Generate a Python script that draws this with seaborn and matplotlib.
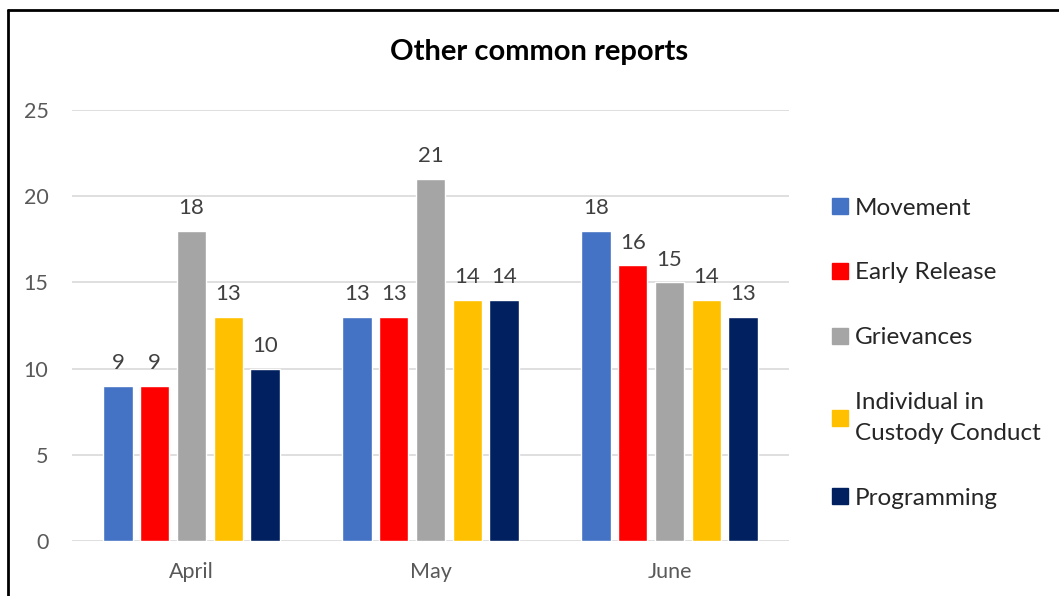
import matplotlib
matplotlib.use("Agg")
import matplotlib.pyplot as plt
from matplotlib.lines import Line2D
import seaborn as sns
import pandas as pd

# Monthly counts for each report type
months = ["April", "May", "June"]
series_names = ["Movement", "Early Release", "Grievances",
                "Individual in\nCustody Conduct", "Programming"]
movement = [9, 13, 18]
early_release = [9, 13, 16]
grievances = [18, 21, 15]
custody_conduct = [13, 14, 14]
programming = [10, 14, 13]
colors = ["#4472C4", "#FF0000", "#A5A5A5", "#FFC000", "#002060"]
y_ticks = [0, 5, 10, 15, 20, 25]

values = [movement, early_release, grievances, custody_conduct, programming]
df = pd.DataFrame(
    [(m, name, v[i]) for name, v in zip(series_names, values) for i, m in enumerate(months)],
    columns=["Month", "Report", "Count"],
)

sns.set_theme(style="white")
plt.rcParams["font.family"] = ["Lato", "DejaVu Sans"]

fig = plt.figure(figsize=(10.59, 5.96), dpi=100)
ax = fig.add_axes([0.068, 0.0923, 0.677, 0.7231])

sns.barplot(data=df, x="Month", y="Count", hue="Report", order=months,
            hue_order=series_names, palette=colors, width=0.77, gap=0.2,
            saturation=1, ax=ax, legend=False, zorder=3)

for cont in ax.containers:
    ax.bar_label(cont, padding=9, fontsize=16, color="#404040")

ax.set_ylim(0, 25)
ax.set_xlim(-0.5, 2.5)
ax.set_yticks(y_ticks)
ax.yaxis.grid(True, color="#D9D9D9", linewidth=1.2, zorder=0)
ax.set_axisbelow(True)
for s in ax.spines.values():
    s.set_visible(False)
ax.set_xlabel("")
ax.set_ylabel("")
ax.tick_params(axis="both", length=0, labelsize=15.5, labelcolor="#595959")
ax.tick_params(axis="y", pad=17)
ax.tick_params(axis="x", pad=15)

fig.text(0.509, 0.912, "Other common reports", ha="center", va="center",
         fontsize=21, fontweight="bold", color="black")

handles = [Line2D([], [], marker="s", linestyle="none", markersize=11,
                  markerfacecolor=c, markeredgecolor=c) for c in colors]
leg = fig.legend(handles, series_names, loc="upper left", bbox_to_anchor=(0.774, 0.689),
                 frameon=False, fontsize=17.5, labelspacing=1.8, handlelength=0.65,
                 handletextpad=0.3, borderpad=0)
for t in leg.get_texts():
    t.set_linespacing(1.6)

# Chart frame
fig.add_artist(Line2D([0.0075, 0.0075], [0, 0.983], transform=fig.transFigure,
                      color="black", linewidth=2))
fig.add_artist(Line2D([0.0075, 1.0], [0.983, 0.983], transform=fig.transFigure,
                      color="black", linewidth=2))

fig.savefig("out.png", dpi=100, facecolor="white")
